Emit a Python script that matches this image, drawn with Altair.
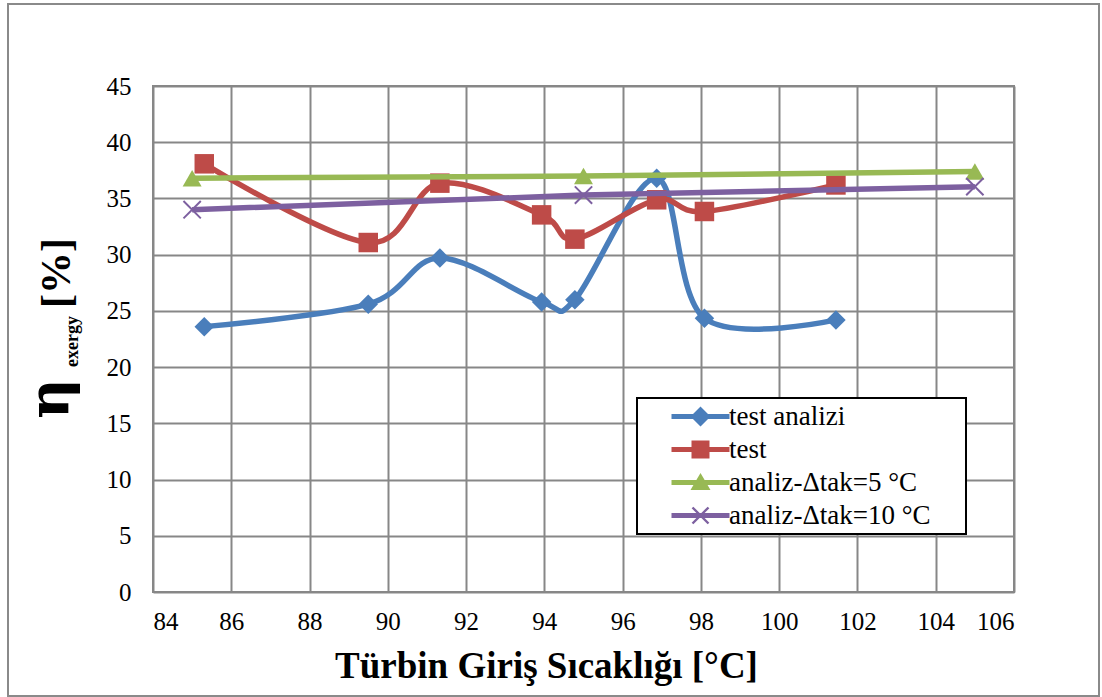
import altair as alt
import pandas as pd

# ---- data ----
temp_test = [85.31, 89.5, 91.33, 93.93, 94.78, 96.87, 98.09, 101.45]
eta_test_analizi = [23.6, 25.6, 29.7, 25.8, 26.0, 36.8, 24.35, 24.2]
eta_test = [38.08, 31.08, 36.36, 33.54, 31.38, 34.88, 33.84, 36.2]
temp_analiz = [85, 95, 105]
eta_analiz_5 = [36.8, 37.0, 37.4]
eta_analiz_10 = [34.0, 35.3, 36.05]

series_names = ["test analizi", "test", "analiz-Δtak=5 °C", "analiz-Δtak=10 °C"]
series_colors = ["#4A7EBB", "#BE4B48", "#98B954", "#7D60A0"]
x_ticks = list(range(84, 107, 2))
y_ticks = list(range(0, 46, 5))

FONT = "Liberation Serif"
LFONT = "'Liberation Serif', 'Times New Roman', serif"

rows = []
for xs, ys, name in [
    (temp_test, eta_test_analizi, series_names[0]),
    (temp_test, eta_test, series_names[1]),
    (temp_analiz, eta_analiz_5, series_names[2]),
    (temp_analiz, eta_analiz_10, series_names[3]),
]:
    for a, b in zip(xs, ys):
        rows.append({"temp": a, "eta": b, "series": name})
df = pd.DataFrame(rows)

x_enc = alt.X(
    "temp:Q",
    scale=alt.Scale(domain=[84, 106], nice=False, zero=False),
    axis=alt.Axis(
        values=x_ticks,
        title="Türbin Giriş Sıcaklığı [°C]",
        titleFont=FONT,
        titleFontSize=37,
        titleFontWeight="bold",
        titleColor="black",
        titleX=393,
        titleY=85,
        titleAlign="center",
        titleBaseline="alphabetic",
        labelPadding=17,
        labelFont=LFONT,
        labelFontSize=25,
        labelColor="black",
    ),
)
y_enc = alt.Y(
    "eta:Q",
    scale=alt.Scale(domain=[0, 45], nice=False),
    axis=alt.Axis(values=y_ticks, title=None, labelPadding=22,
                  labelFont=LFONT, labelFontSize=25, labelColor="black"),
)

X_PATH = ("M-0.715,-0.885 L0.885,0.715 L0.715,0.885 L-0.885,-0.715 Z "
          "M-0.885,0.715 L0.715,-0.885 L0.885,-0.715 L-0.715,0.885 Z")
point_shapes = ["diamond", "square", "triangle-up", "M-1,-1 L1,1 M-1,1 L1,-1"]
point_sizes = [380, 380, 360, 300]
interps = ["cardinal", "cardinal", "linear", "linear"]

layers = []
for i, name in enumerate(series_names):
    base = alt.Chart(df).transform_filter(alt.datum.series == name)
    layers.append(
        base.mark_line(color=series_colors[i], strokeWidth=5.5, interpolate=interps[i])
        .encode(x=x_enc, y=y_enc)
    )
    if i < 3:
        pts = base.mark_point(shape=point_shapes[i], filled=True, size=point_sizes[i],
                              color=series_colors[i], opacity=1, strokeWidth=0)
    else:
        pts = base.mark_point(shape=point_shapes[i], filled=False, size=point_sizes[i],
                              color=series_colors[i], opacity=1, strokeWidth=2)
    layers.append(pts.encode(x=x_enc, y=y_enc))

LINE = "M-2.9,-0.25 L2.9,-0.25 L2.9,0.25 L-2.9,0.25 Z "
legend_paths = [
    LINE + "M-1,0 L0,-1 L1,0 L0,1 Z M26,0",
    LINE + "M-0.9,-0.9 L0.9,-0.9 L0.9,0.9 L-0.9,0.9 Z",
    LINE + "M0,-0.95 L1,0.75 L-1,0.75 Z",
    LINE + X_PATH,
]

leg = alt.Legend(
    title=None,
    orient="none",
    legendX=484,
    legendY=312,
    padding=5,
    labelFont=LFONT,
    labelFontSize=27,
    labelColor="black",
    labelLimit=400,
    symbolSize=400,
    symbolOffset=45,
    labelOffset=15,
    rowPadding=5,
    symbolStrokeWidth=0,
    symbolOpacity=1,
    strokeColor="black",
    fillColor="white",
)
legend_layer = alt.Chart(df).mark_point(filled=True, opacity=0).encode(
    x=x_enc,
    y=y_enc,
    color=alt.Color("series:N", scale=alt.Scale(domain=series_names, range=series_colors), legend=leg),
    shape=alt.Shape("series:N", scale=alt.Scale(domain=series_names, range=legend_paths), legend=leg),
)
layers.append(legend_layer)

# y-axis title with subscript
def txt(label, x, y, size, font=FONT):
    return alt.Chart(pd.DataFrame({"label": [label]})).mark_text(
        font=font, fontSize=size, fontWeight="bold", color="black",
        angle=270, align="left", baseline="alphabetic",
    ).encode(x=alt.value(x), y=alt.value(y), text="label:N")

layers.append(txt("η", -85, 333, 56, "DejaVu Serif"))
layers.append(txt("exergy", -75, 281, 18))
layers.append(txt("[%]", -83, 222, 42))

# outer frame
frame = alt.Chart(pd.DataFrame({"a": [0]})).mark_rect(
    fill=None, stroke="#8a8a8a", strokeWidth=2
).encode(x=alt.value(-145), x2=alt.value(946), y=alt.value(-82), y2=alt.value(610))
layers.append(frame)

chart = (
    alt.layer(*layers)
    .properties(
        width=861,
        height=506,
        padding={"left": 153, "top": 86, "right": 88, "bottom": 105},
        autosize=alt.AutoSizeParams(type="none"),
        background="white",
    )
    .configure(font=LFONT)
    .configure_view(stroke="#878787", strokeWidth=2)
    .configure_axis(
        grid=True,
        gridColor="#878787",
        gridWidth=2,
        domain=False,
        ticks=False,
        labelFont=LFONT,
        labelFontSize=25,
        labelColor="black",
    )
    .configure_legend(strokeWidth=2, labelFont=LFONT)
)

chart.save("out.html", embed_options={"renderer": "svg", "actions": False})
